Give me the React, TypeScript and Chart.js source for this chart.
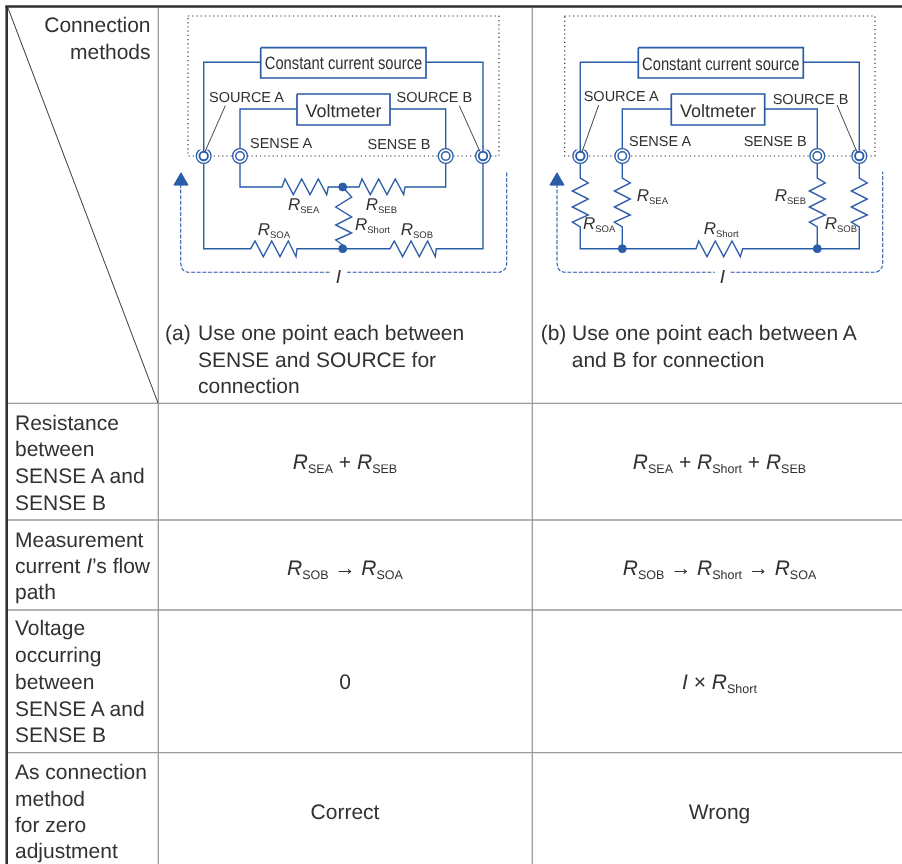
import React, { useEffect, useRef } from "react";
import { Chart, registerables } from "chart.js";

Chart.register(...registerables);

type Pt = number[];
type Seg = [string, string];

const WIDTH = 902;
const HEIGHT = 864;
const BLUE = "#2b5ca8";
const INK = "#333031";
const GRID = "#9a9a9a";
const FONT = '"Liberation Sans", Arial, sans-serif';

// ---- Table rules
const outerRules: Pt[][] = [
  [[5.4, 6.5], [902, 6.5]],
  [[6.7, 6], [6.7, 864]],
];
const gridRules: Pt[][] = [
  [[158.3, 8], [158.3, 864]],
  [[532.3, 8], [532.3, 864]],
  [[8, 403.3], [902, 403.3]],
  [[8, 520], [902, 520]],
  [[8, 610], [902, 610]],
  [[8, 752.7], [902, 752.7]],
];
const diagonalRule: Pt[] = [[8, 8], [158, 403]];

// ---- Instrument outlines
const dottedFrames: Pt[][] = [
  [[188, 16], [499, 16], [499, 156], [188, 156], [188, 16]],
  [[564.7, 16], [875, 16], [875, 156], [564.7, 156], [564.7, 16]],
];
const instrumentBoxes: Pt[][] = [
  [[260.7, 47.7], [426, 47.7], [426, 78], [260.7, 78], [260.7, 47.7]],
  [[297, 94], [390, 94], [390, 125], [297, 125], [297, 94]],
  [[638.3, 47.7], [803.3, 47.7], [803.3, 78], [638.3, 78], [638.3, 47.7]],
  [[671.3, 94], [764.7, 94], [764.7, 125], [671.3, 125], [671.3, 94]],
];

// ---- Wires (a)
const wiresA: Pt[][] = [
  [[203.7, 156], [203.7, 62.3], [260.7, 62.3]],
  [[426, 62.3], [483, 62.3], [483, 156]],
  [[240, 156], [240, 109], [297, 109]],
  [[390, 109], [445.7, 109], [445.7, 156]],
  [[240, 156], [240, 187], [282, 187], [285, 179], [293.3, 194.7], [301.7, 179], [310, 194.7], [318.3, 179], [326.7, 194.7], [328.3, 187], [359, 187], [362, 179], [370.3, 194.7], [378.7, 179], [387, 194.7], [395.3, 179], [403.7, 194.7], [405, 187], [445.7, 187], [445.7, 156]],
  [[342.7, 187], [351.7, 197], [335.7, 207], [351.7, 217], [335.7, 225], [351.7, 233], [335.7, 240], [342.7, 245], [342.7, 248.7]],
  [[203.7, 156], [203.7, 248.7], [250.7, 248.7], [255, 241], [263.3, 256.7], [271.7, 241], [280, 256.7], [288.3, 241], [296, 256.7], [297, 248.7], [390, 248.7], [394.3, 241], [402.6, 256.7], [411, 241], [419.3, 256.7], [427.6, 241], [435.3, 256.7], [436.3, 248.7], [483, 248.7], [483, 156]],
];

// ---- Wires (b)
const wiresB: Pt[][] = [
  [[580.3, 156], [580.3, 62.3], [638.3, 62.3]],
  [[803.3, 62.3], [859.3, 62.3], [859.3, 156]],
  [[622.3, 156], [622.3, 109], [671.3, 109]],
  [[764.7, 109], [817.3, 109], [817.3, 156]],
  [[580.3, 156], [580.3, 178], [588.3, 183], [572.3, 191], [588.3, 199], [572.3, 207], [588.3, 215], [572.3, 222], [580.3, 227], [580.3, 248.7], [696, 248.7], [698.7, 241], [707, 256.7], [715.3, 241], [723.7, 256.7], [732, 241], [740.3, 256.7], [742.7, 248.7], [859.3, 248.7], [859.3, 227], [851.3, 222], [867.3, 215], [851.3, 207], [867.3, 199], [851.3, 191], [867.3, 183], [859.3, 178], [859.3, 156]],
  [[622.3, 156], [622.3, 178], [630.3, 183], [614.3, 191], [630.3, 199], [614.3, 207], [630.3, 215], [614.3, 222], [622.3, 227], [622.3, 248.7]],
  [[817.3, 156], [817.3, 178], [825.3, 183], [809.3, 191], [825.3, 199], [809.3, 207], [825.3, 215], [809.3, 222], [817.3, 227], [817.3, 248.7]],
];

// ---- Current paths
const currentPaths: Pt[][] = [
  [[180.7, 184], [180.7, 263], [181.5, 267.5], [183.5, 270.5], [187.5, 272.3], [330, 272.3]],
  [[347, 272.3], [500, 272.3], [503.5, 270.5], [506, 267.5], [506.7, 263], [506.7, 171.7]],
  [[557, 184], [557, 263], [557.8, 267.5], [559.8, 270.5], [563.8, 272.3], [714.7, 272.3]],
  [[730.7, 272.3], [876, 272.3], [879.5, 270.5], [882, 267.5], [882.7, 263], [882.7, 171.7]],
];
const arrowHeads: Pt[] = [[181, 181], [557, 181]];

// ---- Leader lines
const leaders: Pt[][] = [
  [[225.3, 105.7], [205, 151.7]],
  [[459.3, 105.7], [480, 151.7]],
  [[598.7, 105], [582, 152]],
  [[837, 105], [857, 152]],
];

// ---- Terminals and junctions
const senseTerminals: Pt[] = [[240, 156], [445.7, 156], [622.3, 156], [817.3, 156]];
const sourceTerminals: Pt[] = [[203.7, 156], [483, 156], [580.3, 156], [859.3, 156]];
const sourceRingGaps: Pt[][] = [
  [[199, 148.2], [208.4, 148.2]],
  [[478.3, 148.2], [487.7, 148.2]],
  [[575.6, 148.2], [585, 148.2]],
  [[854.6, 148.2], [864, 148.2]],
];
const sourceStubs: Pt[][] = [
  [[203.7, 146], [203.7, 152]],
  [[483, 146], [483, 152]],
  [[580.3, 146], [580.3, 152]],
  [[859.3, 146], [859.3, 152]],
];
const junctions: Pt[] = [[342.7, 187], [342.7, 248.7], [622.3, 248.7], [817.3, 248.7]];

// ---- Text
const rowHeaders: [string, number][] = [
  ["Resistance", 429.5], ["between", 456], ["SENSE A and", 482.7], ["SENSE B", 509.5],
  ["Measurement", 546.7], ["path", 599],
  ["Voltage", 635], ["occurring", 661.7], ["between", 689], ["SENSE A and", 715.7], ["SENSE B", 741.7],
  ["As connection", 779], ["method", 806], ["for zero", 832.3], ["adjustment", 858.3],
];
const columnHeader: [string, number][] = [["Connection", 32], ["methods", 59]];
const captions: [string, number, number][] = [
  ["(a)", 165, 340],
  ["Use one point each between", 198, 340],
  ["SENSE and SOURCE for", 198, 366.7],
  ["connection", 198, 393],
  ["(b)", 540.7, 340],
  ["Use one point each between A", 572, 340],
  ["and B for connection", 571.7, 366.7],
];
const verdicts: [string, number, number][] = [
  ["0", 345, 689], ["Correct", 345, 819], ["Wrong", 719.5, 819],
];
const terminalLabels: [string, number, number][] = [
  ["SOURCE A", 209, 102], ["SOURCE B", 396.5, 102], ["SENSE A", 250, 147.7], ["SENSE B", 367.5, 148.5],
  ["SOURCE A", 583.7, 100.7], ["SOURCE B", 772.7, 104], ["SENSE A", 629, 145.7], ["SENSE B", 743.7, 145.7],
];
const voltmeterLabels: [string, number, number][] = [
  ["Voltmeter", 343.5, 116.5], ["Voltmeter", 718, 117],
];
const sourceLabels: [string, number, number][] = [
  ["Constant current source", 343.5, 69], ["Constant current source", 720.8, 69.5],
];
const resistorLabels: [string, string, number, number][] = [
  ["R", "SEA", 288, 210], ["R", "SEB", 365.7, 210], ["R", "Short", 355, 230], ["R", "SOA", 257.7, 235], ["R", "SOB", 400.7, 235],
  ["R", "SEA", 636.7, 201], ["R", "SEB", 774.7, 201], ["R", "SOA", 583, 229.3], ["R", "SOB", 824.7, 229.3], ["R", "Short", 703.7, 234.3],
];
const currentLabels: [string, number, number][] = [["I", 338.5, 283], ["I", 722.5, 283]];
const formulas: [Seg[], number, number][] = [
  [[["i", "R"], ["s", "SEA"], ["n", " + "], ["i", "R"], ["s", "SEB"]], 345, 469],
  [[["i", "R"], ["s", "SEA"], ["n", " + "], ["i", "R"], ["s", "Short"], ["n", " + "], ["i", "R"], ["s", "SEB"]], 719.5, 469],
  [[["i", "R"], ["s", "SOB"], ["n", " \u2192 "], ["i", "R"], ["s", "SOA"]], 345, 575],
  [[["i", "R"], ["s", "SOB"], ["n", " \u2192 "], ["i", "R"], ["s", "Short"], ["n", " \u2192 "], ["i", "R"], ["s", "SOA"]], 719.5, 575],
  [[["i", "I"], ["n", " \u00d7 "], ["i", "R"], ["s", "Short"]], 719.5, 689],
];
const mixedRow: Seg[] = [["n", "current "], ["i", "I"], ["n", "\u2019s flow"]];

const toXY = (pts: Pt[]) => pts.map(([x, y]) => ({ x, y }));

function lineSet(pts: Pt[], color: string, width: number, order: number, dash: number[] = []) {
  return {
    type: "scatter" as const,
    data: toXY(pts),
    showLine: true,
    borderColor: color,
    borderWidth: width,
    borderDash: dash,
    pointRadius: 0,
    borderJoinStyle: "miter" as const,
    order,
    clip: false,
  };
}

function pointSet(pts: Pt[], radius: number, fill: string, stroke: string, width: number, order: number, style = "circle") {
  return {
    type: "scatter" as const,
    data: toXY(pts),
    showLine: false,
    pointRadius: radius,
    pointBackgroundColor: fill,
    pointBorderColor: stroke,
    pointBorderWidth: width,
    pointStyle: style,
    order,
    clip: false,
  };
}

const textPlugin = {
  id: "tableText",
  afterDatasetsDraw(chart: any) {
    const { ctx, scales } = chart;
    const X = (v: number) => scales.x.getPixelForValue(v);
    const Y = (v: number) => scales.y.getPixelForValue(v);
    ctx.save();
    ctx.fillStyle = INK;
    ctx.textBaseline = "alphabetic";
    ctx.textRendering = "geometricPrecision";

    const plain = (t: string, x: number, y: number, font: string, align: CanvasTextAlign, sx = 1) => {
      ctx.font = font;
      ctx.textAlign = align;
      ctx.save();
      ctx.translate(X(x), Y(y));
      ctx.scale(sx, 1);
      ctx.fillText(t, 0, 0);
      ctx.restore();
    };

    const rich = (segs: Seg[], x: number, y: number, size: number, subSize: number, drop: number, center: boolean) => {
      const fontOf = (k: string) =>
        k === "i" ? `italic ${size}px ${FONT}` : k === "s" ? `${subSize}px ${FONT}` : `${size}px ${FONT}`;
      ctx.textAlign = "left";
      let total = 0;
      for (const [k, t] of segs) {
        ctx.font = fontOf(k);
        total += ctx.measureText(t).width;
      }
      let cx = X(x) - (center ? total / 2 : 0);
      for (const [k, t] of segs) {
        ctx.font = fontOf(k);
        ctx.fillText(t, cx, Y(y) + (k === "s" ? drop : 0));
        cx += ctx.measureText(t).width;
      }
    };

    const body = `21px ${FONT}`;
    columnHeader.forEach(([t, y]) => plain(t, 150.5, y, body, "right"));
    rowHeaders.forEach(([t, y]) => plain(t, 15, y, body, "left"));
    rich(mixedRow, 15, 573, 21, 12.5, 3.5, false);
    captions.forEach(([t, x, y]) => plain(t, x, y, body, "left"));
    verdicts.forEach(([t, x, y]) => plain(t, x, y, body, "center"));
    formulas.forEach(([segs, x, y]) => rich(segs, x, y, 21, 12.5, 3.5, true));

    terminalLabels.forEach(([t, x, y]) => plain(t, x, y, `14.5px ${FONT}`, "left"));
    voltmeterLabels.forEach(([t, x, y]) => plain(t, x, y, `18px ${FONT}`, "center"));
    sourceLabels.forEach(([t, x, y]) => plain(t, x, y, `18px ${FONT}`, "center", 0.82));
    resistorLabels.forEach(([r, s, x, y]) => rich([["i", r], ["s", s]], x, y, 17, 9.5, 3, false));
    currentLabels.forEach(([t, x, y]) => plain(t, x, y, `italic 19px ${FONT}`, "center"));
    ctx.restore();
  },
};

export default function App() {
  const ref = useRef<HTMLCanvasElement | null>(null);

  useEffect(() => {
    if (!ref.current) return;
    const datasets: any[] = [
      ...gridRules.map((r) => lineSet(r, GRID, 1.3, 9)),
      lineSet(diagonalRule, "#3a3a3a", 1, 8),
      ...outerRules.map((r) => lineSet(r, "#2f2f2f", 2.6, 7)),
      ...dottedFrames.map((r) => lineSet(r, "#333333", 1.2, 6, [1.2, 3])),
      ...wiresA.map((r) => lineSet(r, BLUE, 1.4, 5)),
      ...wiresB.map((r) => lineSet(r, BLUE, 1.4, 5)),
      ...instrumentBoxes.map((r) => lineSet(r, BLUE, 1.7, 5)),
      ...currentPaths.map((r) => lineSet(r, BLUE, 1.1, 5, [4, 1.6])),
      pointSet(senseTerminals, 7.4, "#ffffff", BLUE, 1.3, 4),
      pointSet(senseTerminals, 4.2, "#ffffff", BLUE, 1.5, 3.5),
      pointSet(sourceTerminals, 7.4, "#ffffff", BLUE, 1.3, 4),
      ...sourceRingGaps.map((r) => lineSet(r, "#ffffff", 3, 3.8)),
      pointSet(sourceTerminals, 4.2, "#ffffff", BLUE, 1.9, 3.5),
      ...sourceStubs.map((r) => lineSet(r, BLUE, 1.4, 3)),
      pointSet(junctions, 3.9, BLUE, BLUE, 1, 2),
      pointSet(arrowHeads, 8.2, BLUE, BLUE, 1, 2, "triangle"),
      ...leaders.map((r) => lineSet(r, "#333333", 0.9, 1)),
    ];
    const chart = new Chart(ref.current, {
      type: "scatter",
      data: { datasets },
      options: {
        animation: false,
        responsive: false,
        devicePixelRatio: 1,
        layout: { padding: 0, autoPadding: false },
        events: [],
        plugins: { legend: { display: false }, title: { display: false }, tooltip: { enabled: false } },
        scales: {
          x: { type: "linear", display: false, min: 0, max: WIDTH },
          y: { type: "linear", display: false, min: 0, max: HEIGHT, reverse: true },
        },
      },
      plugins: [textPlugin],
    } as any);
    return () => chart.destroy();
  }, []);

  return (
    <div style={{ position: "absolute", left: 0, top: 0, width: WIDTH, height: HEIGHT, background: "#ffffff" }}>
      <canvas ref={ref} width={WIDTH} height={HEIGHT} style={{ display: "block" }} />
    </div>
  );
}
